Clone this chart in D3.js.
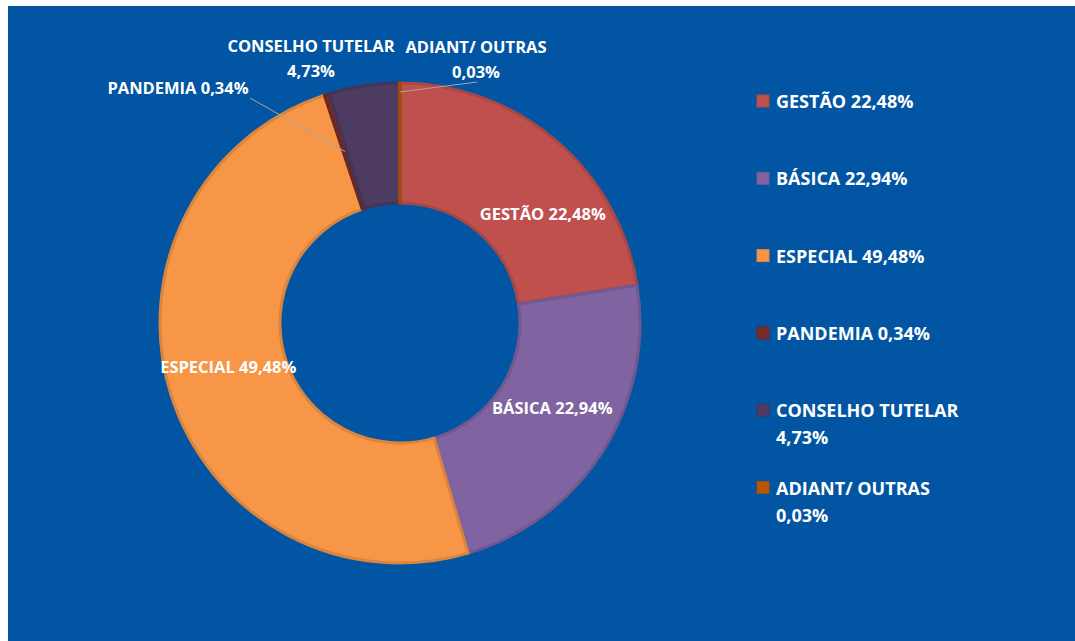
<!DOCTYPE html>
<html>
<head>
<meta charset="utf-8">
<script src="https://cdn.jsdelivr.net/npm/d3@7"></script>
<style>
  html, body { margin: 0; padding: 0; background: #ffffff; }
  svg { display: block; font-family: "Open Sans", sans-serif; font-weight: 700; }
</style>
</head>
<body>
<div id="chart"></div>
<script>
// data
var categories = ["GESTÃO", "BÁSICA", "ESPECIAL", "PANDEMIA", "CONSELHO TUTELAR", "ADIANT/ OUTRAS"];
var values = [22.48, 22.94, 49.48, 0.34, 4.73, 0.03];
var valueLabels = ["22,48%", "22,94%", "49,48%", "0,34%", "4,73%", "0,03%"];
var colors = ["#C0504D", "#8064A2", "#F79646", "#772C2A", "#4D3B62", "#B65708"];

// legend rows: how each legend entry wraps
var legendLines = [
  ["GESTÃO 22,48%"],
  ["BÁSICA 22,94%"],
  ["ESPECIAL 49,48%"],
  ["PANDEMIA 0,34%"],
  ["CONSELHO TUTELAR", "4,73%"],
  ["ADIANT/ OUTRAS", "0,03%"]
];

// data label layout: inside labels get a nudge off the centroid,
// outside labels get a fixed anchor and a leader line
var labelLines = [
  ["GESTÃO 22,48%"],
  ["BÁSICA 22,94%"],
  ["ESPECIAL 49,48%"],
  ["PANDEMIA 0,34%"],
  ["CONSELHO TUTELAR", "4,73%"],
  ["ADIANT/ OUTRAS", "0,03%"]
];
var labelInside = [true, true, true, false, false, false];
var labelNudge = [[26, 27], [0, -11], [0, -10], [0, 0], [0, 0], [0, 0]];
var labelAnchor = [null, null, null, [178, 87], [311, 45], [476, 46]];
var leaderStart = [null, null, null, [250, 98], null, [477, 82]];
var leaderRadius = [0, 0, 0, 180, 0, 231];

var W = 1075, H = 641;
var cx = 400, cy = 323, rOuter = 240, rInner = 120;

var svg = d3.select("#chart").append("svg")
  .attr("width", W)
  .attr("height", H);

// blue panel
svg.append("rect")
  .attr("x", 8).attr("y", 6)
  .attr("width", W - 8).attr("height", H - 6)
  .attr("fill", "#0155A2");

var data = categories.map(function (c, i) {
  return { name: c, value: values[i], color: colors[i], i: i };
});

var pie = d3.pie()
  .sort(null)
  .value(function (d) { return d.value; });

var arcs = pie(data);

var arc = d3.arc()
  .innerRadius(rInner)
  .outerRadius(rOuter);

var g = svg.append("g").attr("transform", "translate(" + cx + "," + cy + ")");

g.selectAll("path")
  .data(arcs)
  .enter()
  .append("path")
  .attr("d", arc)
  .attr("fill", function (d) { return d.data.color; })
  .attr("stroke", function (d) { return d3.color(d.data.color).darker(0.35); })
  .attr("stroke-width", 3)
  .attr("stroke-linejoin", "round");

// inside labels
var midArc = d3.arc()
  .innerRadius((rInner + rOuter) / 2)
  .outerRadius((rInner + rOuter) / 2);

arcs.forEach(function (d) {
  var i = d.data.i;
  if (!labelInside[i]) return;
  var c = midArc.centroid(d);
  svg.append("text")
    .attr("x", cx + c[0] + labelNudge[i][0])
    .attr("y", cy + c[1] + labelNudge[i][1])
    .attr("text-anchor", "middle")
    .attr("dominant-baseline", "central")
    .attr("fill", "#ffffff")
    .attr("font-size", 16.5)
    .text(labelLines[i][0]);
});

// leader lines
arcs.forEach(function (d) {
  var i = d.data.i;
  if (!leaderStart[i]) return;
  var a = (d.startAngle + d.endAngle) / 2;
  svg.append("line")
    .attr("x1", leaderStart[i][0])
    .attr("y1", leaderStart[i][1])
    .attr("x2", cx + leaderRadius[i] * Math.sin(a))
    .attr("y2", cy - leaderRadius[i] * Math.cos(a))
    .attr("stroke", "#A6A6A6")
    .attr("stroke-width", 1);
});

// outside labels
arcs.forEach(function (d) {
  var i = d.data.i;
  if (labelInside[i]) return;
  var t = svg.append("text")
    .attr("text-anchor", "middle")
    .attr("fill", "#ffffff")
    .attr("font-size", 16.5);
  labelLines[i].forEach(function (line, k) {
    t.append("tspan")
      .attr("x", labelAnchor[i][0])
      .attr("y", labelAnchor[i][1] + k * 25)
      .attr("dominant-baseline", "central")
      .text(line);
  });
});

// legend
var legendX = 757, legendY = 101, legendStep = 77.3, legendLine = 27;
var legend = svg.append("g");
data.forEach(function (d, i) {
  var y = legendY + i * legendStep;
  legend.append("rect")
    .attr("x", legendX)
    .attr("y", y - 6)
    .attr("width", 12)
    .attr("height", 12)
    .attr("fill", d.color)
    .attr("stroke", d3.color(d.color).darker(0.3))
    .attr("stroke-width", 1);
  var t = legend.append("text")
    .attr("fill", "#ffffff")
    .attr("font-size", 18);
  legendLines[i].forEach(function (line, k) {
    t.append("tspan")
      .attr("x", legendX + 19)
      .attr("y", y + k * legendLine)
      .attr("dominant-baseline", "central")
      .text(line);
  });
});
</script>
</body>
</html>
